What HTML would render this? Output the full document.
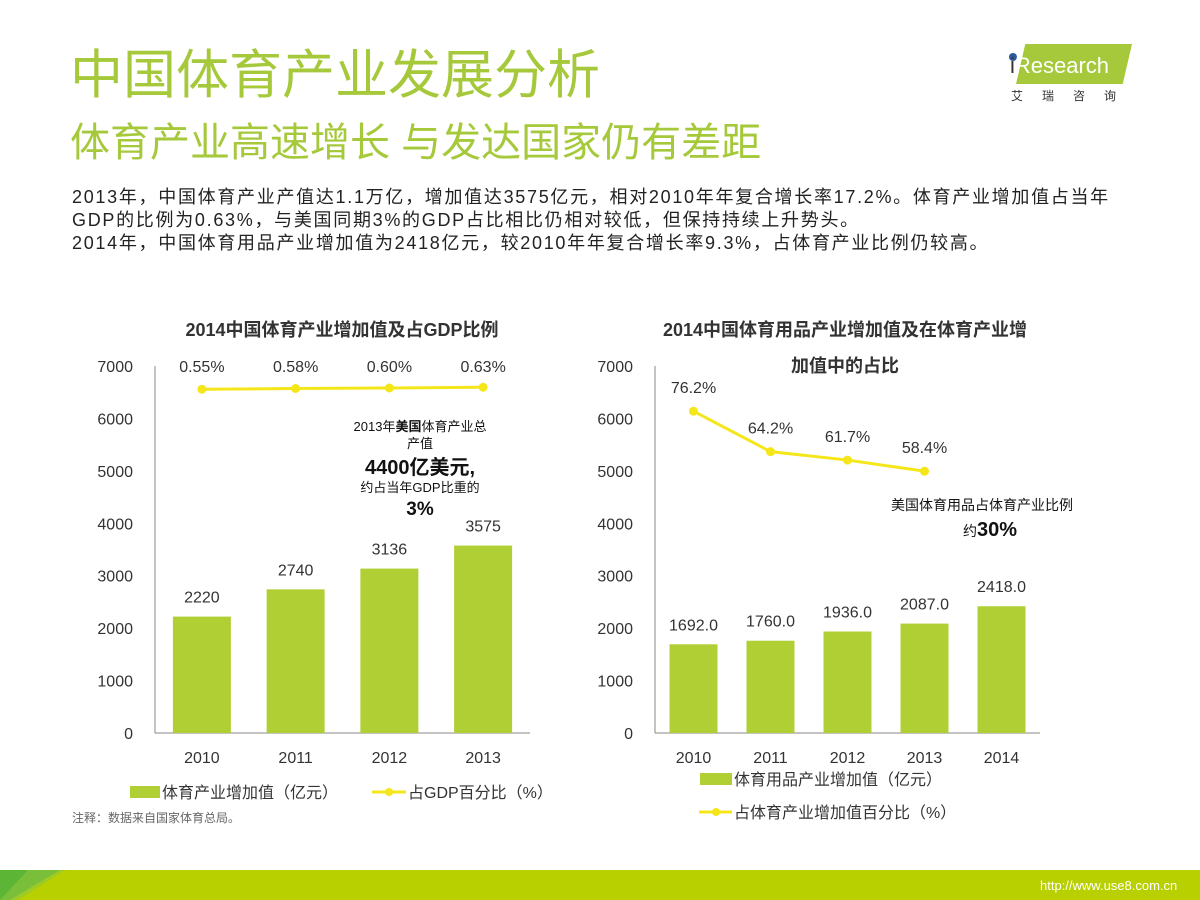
<!DOCTYPE html>
<html><head><meta charset="utf-8">
<style>
body{margin:0;width:1200px;height:900px;overflow:hidden;background:#fff;font-family:"Liberation Sans","Noto Sans CJK SC",sans-serif;position:relative}
.abs{position:absolute;white-space:nowrap}
</style></head><body>
<div class="abs" style="left:70px;top:44px;font-size:53px;color:#a5c93a;line-height:64px">中国体育产业发展分析</div>
<div class="abs" style="left:70px;top:116px;font-size:40px;color:#a5c93a;line-height:54px">体育产业高速增长 与发达国家仍有差距</div>
<div class="abs" style="left:1006px;top:44px;width:130px;height:60px">
  <div style="position:absolute;left:10px;top:0;width:116px;height:40px;background:#a5c93a;clip-path:polygon(8% 0,100% 0,92% 100%,0 100%)"></div>
  <div style="position:absolute;left:3px;top:9px;width:8px;height:8px;border-radius:50%;background:#2b5aa0"></div>
  <div style="position:absolute;left:4px;top:8px;font-size:22px;color:#fff;line-height:28px"><span style="color:#333">i</span>Research</div>
  <div style="position:absolute;left:5px;top:43px;font-size:12px;color:#333;letter-spacing:19px">艾瑞咨询</div>
</div>
<div class="abs" style="left:72px;top:186px;font-size:18px;letter-spacing:1.7px;color:#222;line-height:23px">2013年，中国体育产业产值达1.1万亿，增加值达3575亿元，相对2010年年复合增长率17.2%。体育产业增加值占当年<br>GDP的比例为0.63%，与美国同期3%的GDP占比相比仍相对较低，但保持持续上升势头。<br>2014年，中国体育用品产业增加值为2418亿元，较2010年年复合增长率9.3%，占体育产业比例仍较高。</div>

<svg id="chart" width="1200" height="900" style="position:absolute;left:0;top:0" font-family="Liberation Sans, Noto Sans CJK SC, sans-serif">
 <text x="342" y="336" text-anchor="middle" font-size="18" font-weight="bold" fill="#333">2014中国体育产业增加值及占GDP比例</text>
 <text x="845" y="336" text-anchor="middle" font-size="18" font-weight="bold" fill="#333">2014中国体育用品产业增加值及在体育产业增</text>
 <text x="845" y="372" text-anchor="middle" font-size="18" font-weight="bold" fill="#333">加值中的占比</text>
 <g id="left"></g><g id="right"></g>
 <g fill="#111" text-anchor="middle">
  <text x="420" y="431" font-size="13">2013年<tspan font-weight="bold">美国</tspan>体育产业总</text>
  <text x="420" y="448" font-size="13">产值</text>
  <text x="420" y="474" font-size="20" font-weight="bold">4400亿美元,</text>
  <text x="420" y="492" font-size="13">约占当年GDP比重的</text>
  <text x="420" y="515" font-size="19" font-weight="bold">3%</text>
 </g>
 <g fill="#111" text-anchor="middle">
  <text x="982" y="510" font-size="14">美国体育用品占体育产业比例</text>
  <text x="990" y="536" font-size="14">约<tspan font-size="20" font-weight="bold">30%</tspan></text>
 </g>
 <g>
  <rect x="130" y="786" width="30" height="12" fill="#b0cf34"/>
  <text x="162" y="798" font-size="16" fill="#333">体育产业增加值（亿元）</text>
  <line x1="372" y1="792" x2="406" y2="792" stroke="#f5e61a" stroke-width="3"/><circle cx="389" cy="792" r="4" fill="#f5e61a"/>
  <text x="408" y="798" font-size="16" fill="#333">占GDP百分比（%）</text>
 </g>
 <g>
  <rect x="700" y="773" width="32" height="12" fill="#b0cf34"/>
  <text x="734" y="785" font-size="16" fill="#333">体育用品产业增加值（亿元）</text>
  <line x1="699" y1="812" x2="732" y2="812" stroke="#f5e61a" stroke-width="3"/><circle cx="716" cy="812" r="4" fill="#f5e61a"/>
  <text x="734" y="818" font-size="16" fill="#333">占体育产业增加值百分比（%）</text>
 </g>
 <text x="72" y="822" font-size="12" fill="#666">注释：数据来自国家体育总局。</text>
 <g>
  <rect x="0" y="870" width="1200" height="30" fill="#b8d000"/>
  <polygon points="0,870 60,870 10,900 0,900" fill="#5cb535"/>
  <polygon points="28,870 65,870 18,900 0,900" fill="#8cc63e" opacity="0.6"/>
  <text x="1040" y="890" font-size="13" fill="#fff">http://www.use8.com.cn</text>
 </g>
</svg>
<script>
const leftCats=["2010","2011","2012","2013"];
const leftVals=[2220,2740,3136,3575];
const leftPct=[0.55,0.58,0.60,0.63];
const rightCats=["2010","2011","2012","2013","2014"];
const rightVals=[1692.0,1760.0,1936.0,2087.0,2418.0];
const rightPct=[76.2,64.2,61.7,58.4];
const yTicks=[0,1000,2000,3000,4000,5000,6000,7000];
const NS="http://www.w3.org/2000/svg";
function mk(p,t,a){const e=document.createElementNS(NS,t);for(const k in a)e.setAttribute(k,a[k]);p.appendChild(e);return e;}
function draw(g,o){
  const y=v=>o.y0-v/7000*(o.y0-o.y1);
  const cw=(o.x1-o.x0)/o.cats.length;
  const cx=i=>o.x0+cw*(i+0.5);
  yTicks.forEach(t=>{const e=mk(g,"text",{x:o.x0-22,y:y(t)+6,"text-anchor":"end","font-size":16,fill:"#333"});e.textContent=t;
    
    });
  const ax=mk(g,"line",{x1:o.x0,y1:o.y1,x2:o.x0,y2:o.y0,stroke:"#888"});
  
  
  const bx=mk(g,"line",{x1:o.x0,y1:o.y0,x2:o.x1,y2:o.y0,stroke:"#888"});
  
  
  o.cats.forEach((c,i)=>{
    const v=o.vals[i];
    const r=mk(g,"rect",{x:cx(i)-o.bw/2,y:y(v),width:o.bw,height:o.y0-y(v),fill:"#b0cf34"});
    
    
    const l=mk(g,"text",{x:cx(i),y:y(v)-14,"text-anchor":"middle","font-size":16,fill:"#333"});l.textContent=o.fmt(v);
    
    
    const xl=mk(g,"text",{x:cx(i),y:o.y0+30,"text-anchor":"middle","font-size":16,fill:"#333"});xl.textContent=c;
    
    
  });
  const pts=o.pct.map((p,i)=>[cx(i),o.py(p)]);
  const pl=mk(g,"polyline",{points:pts.map(p=>p.join(",")).join(" "),fill:"none",stroke:"#f5e61a","stroke-width":3});
  
  
  pts.forEach((p,i)=>{
    const c=mk(g,"circle",{cx:p[0],cy:p[1],r:4.5,fill:"#f5e61a"});
    
    
    const t=mk(g,"text",{x:p[0],y:o.plabY?o.plabY:p[1]-18,"text-anchor":"middle","font-size":16,fill:"#333"});
    t.textContent=o.pct[i].toFixed(o.pd)+"%";
    
    
  });
}
draw(document.getElementById("left"),{x0:155,x1:530,y0:733,y1:366,bw:58,cats:leftCats,vals:leftVals,pct:leftPct,
  py:p=>403-p*25,fmt:v=>String(v),pd:2,plabY:372});
draw(document.getElementById("right"),{x0:655,x1:1040,y0:733,y1:366,bw:48,cats:rightCats,vals:rightVals,pct:rightPct,
  py:p=>668-p*3.37,fmt:v=>v.toFixed(1),pd:1});
</script>
</body></html>
